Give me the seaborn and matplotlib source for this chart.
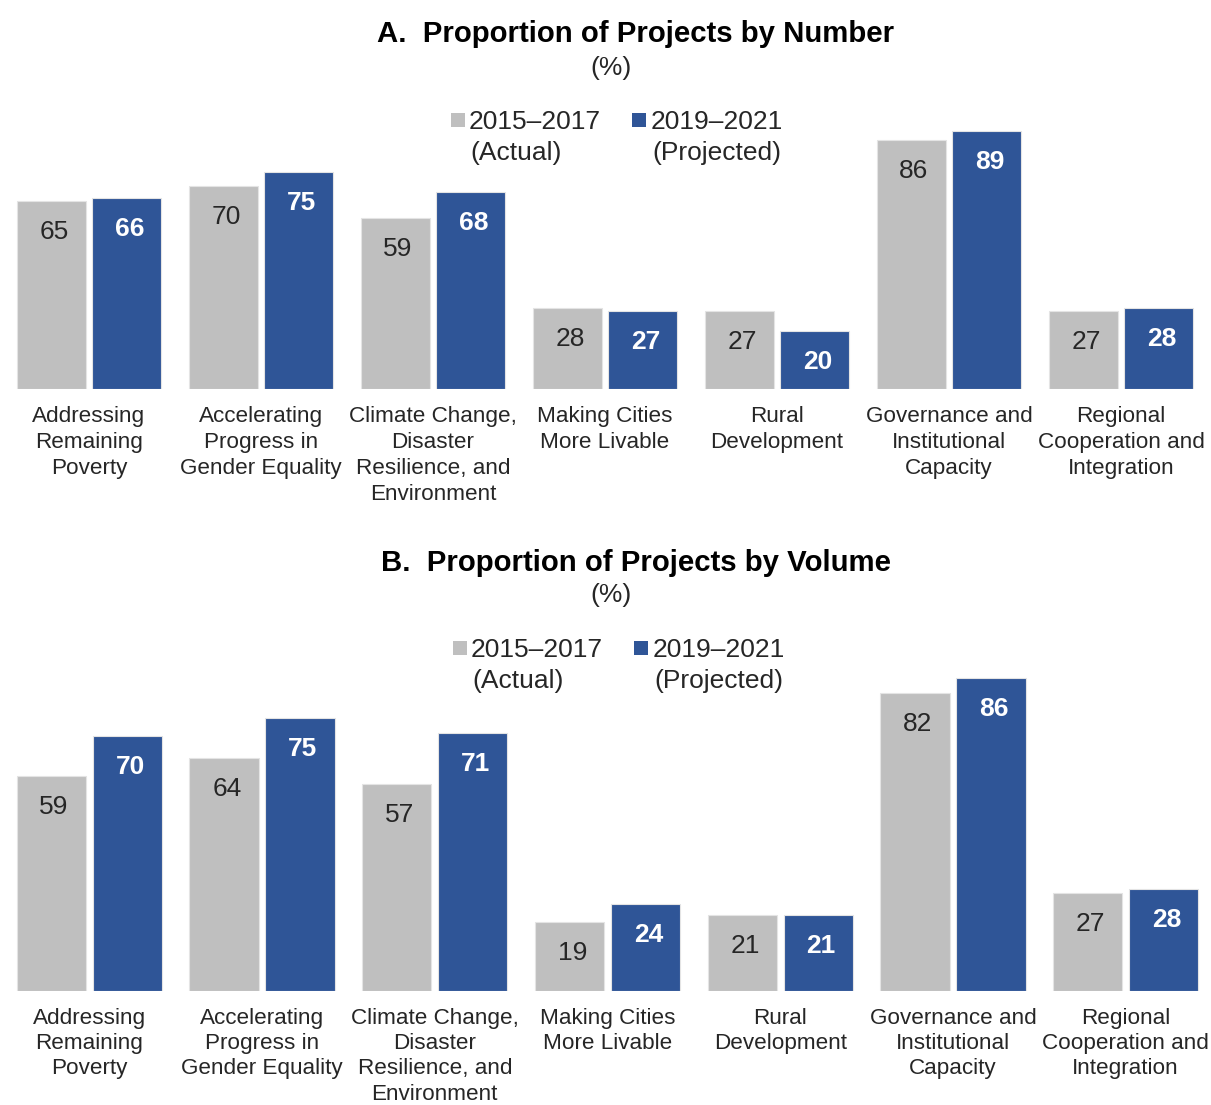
import matplotlib
matplotlib.use("Agg")
import matplotlib.pyplot as plt
import pandas as pd
import seaborn as sns
from matplotlib.patches import Rectangle

# Thematic operational priorities (x-axis categories)
categories = [
    "Addressing\nRemaining\nPoverty",
    "Accelerating\nProgress in\nGender Equality",
    "Climate Change,\nDisaster\nResilience, and\nEnvironment",
    "Making Cities\nMore Livable",
    "Rural\nDevelopment",
    "Governance and\nInstitutional\nCapacity",
    "Regional\nCooperation and\nIntegration",
]
periods = ["2015–2017\n(Actual)", "2019–2021\n(Projected)"]

# Panel A: share of projects by number (%)
number_actual = [65, 70, 59, 28, 27, 86, 27]
number_projected = [66, 75, 68, 27, 20, 89, 28]

# Panel B: share of projects by volume (%)
volume_actual = [59, 64, 57, 19, 21, 82, 27]
volume_projected = [70, 75, 71, 24, 21, 86, 28]

GRAY = "#BFBFBF"
BLUE = "#2F5597"
TEXT = "#262626"

sns.set_theme(style="white")
plt.rcParams["font.family"] = ["Liberation Sans", "DejaVu Sans"]

W, H = 1211, 1105
fig = plt.figure(figsize=(W / 100, H / 100), dpi=100)


def fx(px):
    return px / W


def fy(py):
    return 1 - py / H


def long_frame(actual, projected):
    rows = []
    for cat, a, p in zip(categories, actual, projected):
        rows.append((cat, periods[0], a))
        rows.append((cat, periods[1], p))
    return pd.DataFrame(rows, columns=["category", "period", "value"])


def draw_panel(rect, actual, projected, pad, spacing):
    ax = fig.add_axes(rect)
    df = long_frame(actual, projected)
    sns.barplot(
        data=df, x="category", y="value", hue="period",
        order=categories, hue_order=periods,
        palette=[GRAY, BLUE], saturation=1,
        width=0.88, gap=0.09, legend=False,
        edgecolor="#E4E4E4", linewidth=0.8, ax=ax,
    )
    ax.set_ylim(0, 100)
    ax.set_xlim(-0.5, len(categories) - 0.5)
    ax.set_xlabel("")
    ax.set_ylabel("")
    ax.set_yticks([])
    ax.tick_params(axis="x", length=0, pad=pad, labelsize=16.2, labelcolor=TEXT)
    for lab in ax.get_xticklabels():
        lab.set_linespacing(spacing)
    for s in ax.spines.values():
        s.set_visible(False)

    # value labels inside the top of each bar
    for container, vals, col, wt in zip(
        ax.containers, (actual, projected), (TEXT, "white"), ("normal", "bold")
    ):
        for bar, v in zip(container, vals):
            ax.annotate(
                f"{v}", (bar.get_x() + bar.get_width() / 2, v),
                xytext=(2, -22.5), textcoords="offset points",
                ha="center", va="center", fontsize=19,
                color=col, fontweight=wt,
            )
    return ax


def draw_header(title, title_base, pct_base, leg_dx, leg_dy):
    fig.text(fx(636), fy(title_base), title, ha="center", va="baseline",
             fontsize=21.2, fontweight="bold", color="black")
    fig.text(fx(611), fy(pct_base), "(%)", ha="center", va="baseline",
             fontsize=19, color=TEXT)
    # legend
    for (sq_x, tx), col, lab in zip(((451, 469), (632, 651)), (GRAY, BLUE), periods):
        sq_x += leg_dx
        tx += leg_dx
        fig.patches.append(Rectangle(
            (fx(sq_x), fy(127 + leg_dy)), 14 / W, 14 / H,
            transform=fig.transFigure, facecolor=col, edgecolor="none"))
        fig.text(fx(tx), fy(129 + leg_dy), lab.split("\n")[0], ha="left",
                 va="baseline", fontsize=19, color=TEXT)
        fig.text(fx(tx + 1), fy(160 + leg_dy), lab.split("\n")[1], ha="left",
                 va="baseline", fontsize=19, color=TEXT)


# Panel A
draw_panel([fx(3), fy(389), 1204 / W, 290 / H], number_actual, number_projected, 12, 1.31)
draw_header("A.  Proportion of Projects by Number", 42, 75, 0, 0)

# Panel B
draw_panel([fx(3), fy(991), 1209 / W, 364 / H], volume_actual, volume_projected, 12.3, 1.26)
draw_header("B.  Proportion of Projects by Volume", 571, 602, 2, 528)

fig.savefig("out.png", dpi=100, facecolor="white")
